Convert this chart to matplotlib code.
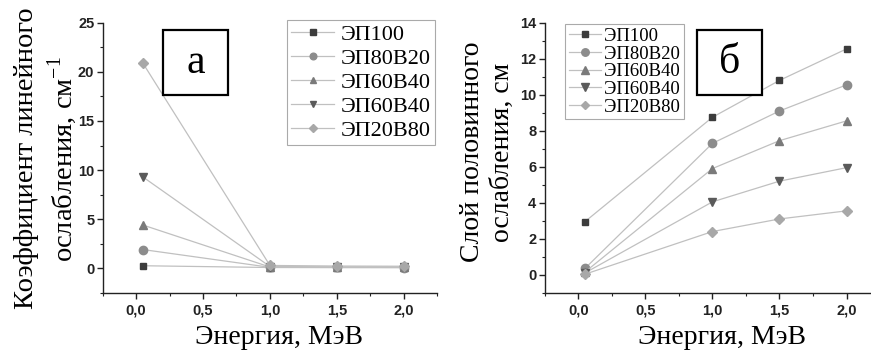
import matplotlib
matplotlib.use("Agg")
import matplotlib.pyplot as plt
from matplotlib.patches import Rectangle

energy = [0.05, 1.0, 1.5, 2.0]
labels = ["ЭП100", "ЭП80В20", "ЭП60В40", "ЭП60В40", "ЭП20В80"]

mu_ep100 = [0.25, 0.07, 0.06, 0.06]
mu_ep80 = [1.9, 0.09, 0.08, 0.07]
mu_ep60 = [4.4, 0.12, 0.09, 0.08]
mu_ep60b = [9.3, 0.17, 0.13, 0.12]
mu_ep20 = [20.9, 0.28, 0.22, 0.2]

hvl_ep100 = [2.95, 8.75, 10.8, 12.55]
hvl_ep80 = [0.35, 7.3, 9.1, 10.55]
hvl_ep60 = [0.15, 5.9, 7.45, 8.55]
hvl_ep60b = [0.1, 4.05, 5.2, 5.95]
hvl_ep20 = [0.03, 2.4, 3.1, 3.55]

markers = ["s", "o", "^", "v", "D"]
mcolors = ["#3c3c3c", "#8c8c8c", "#7a7a7a", "#5a5a5a", "#a8a8a8"]
msizes = [5, 6, 6, 6, 5]
line_color = "#c0c0c0"

serif = ["Liberation Serif", "DejaVu Serif"]
sans = ["Liberation Sans", "DejaVu Sans"]

fig = plt.figure(figsize=(8.71, 3.51), dpi=100)
fig.patch.set_facecolor("white")

ax1 = fig.add_axes([0.1179, 0.166, 0.384, 0.769])
ax2 = fig.add_axes([0.6254, 0.166, 0.385, 0.769])

for ax, series in ((ax1, [mu_ep100, mu_ep80, mu_ep60, mu_ep60b, mu_ep20]),
                   (ax2, [hvl_ep100, hvl_ep80, hvl_ep60, hvl_ep60b, hvl_ep20])):
    for ys, lab, mk, mc, ms in zip(series, labels, markers, mcolors, msizes):
        ax.plot(energy, ys, color=line_color, lw=0.9, marker=mk, ms=ms,
                mfc=mc, mec=mc, label=lab)
    for s in ("top", "right"):
        ax.spines[s].set_visible(False)
    for s in ("left", "bottom"):
        ax.spines[s].set_linewidth(1.0)
        ax.spines[s].set_color("#222222")
    ax.set_xlim(-0.25, 2.25)
    ax.set_xticks([0.0, 0.5, 1.0, 1.5, 2.0])
    ax.set_xticklabels(["0,0", "0,5", "1,0", "1,5", "2,0"])
    ax.set_xticks([-0.25, 0.25, 0.75, 1.25, 1.75, 2.25], minor=True)
    ax.tick_params(axis="both", which="major", direction="out", length=4, width=1.0,
                   colors="#222222")
    ax.tick_params(axis="x", which="major", pad=4)
    ax.tick_params(axis="y", which="major", pad=2)
    ax.tick_params(axis="both", which="minor", direction="out", length=2.5, width=0.8,
                   colors="#222222")
    ax.set_xlabel("Энергия, МэВ", fontfamily=serif, fontsize=20, va="center", ha="center")

ax1.xaxis.set_label_coords(0.527, -0.164)
ax2.xaxis.set_label_coords(0.529, -0.164)

ax1.set_ylim(-2.5, 25)
ax1.set_yticks([0, 5, 10, 15, 20, 25])
ax1.set_yticks([-2.5, 2.5, 7.5, 12.5, 17.5, 22.5], minor=True)
ax2.set_ylim(-1, 14)
ax2.set_yticks([0, 2, 4, 6, 8, 10, 12, 14])
ax2.set_yticks([-1, 1, 3, 5, 7, 9, 11, 13], minor=True)
for ax in (ax1, ax2):
    for t in ax.get_xticklabels() + ax.get_yticklabels():
        t.set_fontfamily(sans)
        t.set_fontweight("bold")
        t.set_fontsize(10.5)

ax1.set_ylabel("Коэффициент линейного\nослабления, см$^{\\mathregular{-1}}$", fontfamily=serif,
               fontsize=20.5, linespacing=1.25, va="center", ha="center")
ax1.yaxis.set_label_coords(-0.168, 0.497)
ax2.set_ylabel("Слой половинного\nослабления, см", fontfamily=serif,
               fontsize=20, linespacing=1.25, va="center", ha="center")
ax2.yaxis.set_label_coords(-0.17, 0.521)

leg1 = ax1.legend(loc="upper left", bbox_to_anchor=(287 / 871, 1 - 20 / 351),
                  bbox_transform=fig.transFigure, prop={"family": serif, "size": 16},
                  frameon=True, fancybox=False, edgecolor="#aaaaaa", framealpha=1,
                  handlelength=1.9, handletextpad=0.3, labelspacing=0.15,
                  borderpad=0.2, borderaxespad=0, markerscale=0.8)
leg1.get_frame().set_linewidth(0.8)
leg2 = ax2.legend(loc="upper left", bbox_to_anchor=(565 / 871, 1 - 24 / 351),
                  bbox_transform=fig.transFigure, prop={"family": serif, "size": 13.5},
                  frameon=True, fancybox=False, edgecolor="#aaaaaa", framealpha=1,
                  handlelength=1.7, handletextpad=0.2, labelspacing=0.03,
                  borderpad=0.2, borderaxespad=0, markerscale=0.9)
leg2.get_frame().set_linewidth(0.8)

# panel label boxes
for (x0, x1, txt) in ((163, 228, "а"), (697, 762, "б")):
    y0, y1 = 30, 95
    fig.patches.append(Rectangle((x0 / 871, 1 - y1 / 351), (x1 - x0) / 871, (y1 - y0) / 351,
                                 transform=fig.transFigure, fill=True, facecolor="white",
                                 edgecolor="black", lw=1.6, zorder=5))
    fig.text((x0 + x1) / 2 / 871, 1 - (y0 + y1) / 2 / 351, txt, ha="center", va="center",
             fontfamily=serif, fontsize=30, zorder=6)

fig.savefig("out.png", dpi=100, facecolor="white")
